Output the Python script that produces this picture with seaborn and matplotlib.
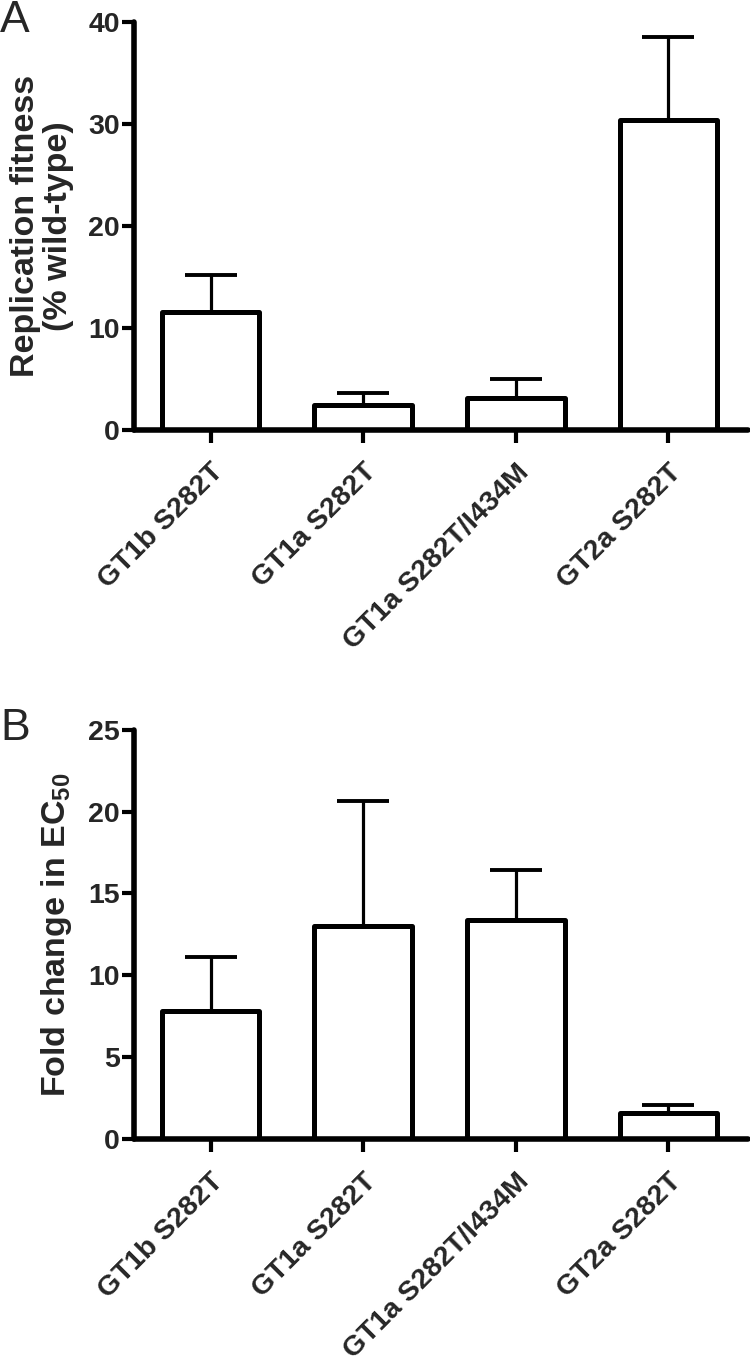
import numpy as np
import pandas as pd
import matplotlib
matplotlib.use("Agg")
import matplotlib.pyplot as plt
import seaborn as sns

mutants = ["GT1b S282T", "GT1a S282T", "GT1a S282T/I434M", "GT2a S282T"]
fitness = [11.6, 2.45, 3.1, 30.4]
fitness_err = [3.6, 1.15, 1.9, 8.1]
fold_ec50 = [7.8, 13.0, 13.35, 1.6]
fold_ec50_err = [3.3, 7.65, 3.1, 0.45]

sns.set_theme(style="ticks")
plt.rcParams['font.family'] = ['Liberation Sans', 'DejaVu Sans']
plt.rcParams['mathtext.fontset'] = 'custom'
plt.rcParams['mathtext.rm'] = 'Liberation Sans'
plt.rcParams['mathtext.bf'] = 'Liberation Sans:bold'


def bar_panel(ax, values, errs, ylim, yticks, ylabel, letter, letter_y):
    df = pd.DataFrame({"mutant": mutants, "value": values})
    sns.barplot(data=df, x="mutant", y="value", color="white", edgecolor="black",
                linewidth=3.6, width=0.64, ax=ax)
    for p in ax.patches:
        p.set_facecolor("white")
        p.set_joinstyle("round")
    ax.errorbar(np.arange(len(values)), values, yerr=[np.zeros(len(errs)), errs],
                fmt="none", ecolor="black", elinewidth=2.3, capsize=19, capthick=2.8,
                zorder=0)
    ax.set_xlim(-0.5, 3.52)
    ax.set_ylim(*ylim)
    ax.set_yticks(yticks)
    ax.set_xlabel("")
    ax.set_ylabel(ylabel, fontsize=24.5, fontweight="bold", labelpad=10,
                  linespacing=1.1)
    ax.set_xticks(range(len(mutants)))
    ax.set_xticklabels(mutants, rotation=45, ha="right", va="top",
                       rotation_mode="anchor", fontsize=20.5, fontweight="bold")
    for lab in ax.get_yticklabels():
        lab.set_fontsize(20.5)
        lab.set_fontweight("bold")
    ax.tick_params(axis="both", width=3, length=9, color="black")
    ax.tick_params(axis="y", pad=1.5)
    ax.tick_params(axis="x", pad=12)
    sns.despine(ax=ax)
    for s in ["left", "bottom"]:
        ax.spines[s].set_linewidth(4)
        ax.spines[s].set_color("black")
        ax.spines[s].set_capstyle("round")
    ax.figure.text(0.0, letter_y, letter, fontsize=32, ha="left", va="center")


fig = plt.figure(figsize=(7.5, 13.69), dpi=100)
ax1 = fig.add_axes([0.179, 0.686, 0.818, 0.298])
ax2 = fig.add_axes([0.179, 0.168, 0.818, 0.299])

bar_panel(ax1, fitness, fitness_err, (0, 40), [0, 10, 20, 30, 40],
          "Replication fitness\n(% wild-type)", "A", 0.9847)
bar_panel(ax2, fold_ec50, fold_ec50_err, (0, 25), [0, 5, 10, 15, 20, 25],
          r"Fold change in EC$_{\mathbf{50}}$", "B", 0.468)

fig.savefig("out.png", dpi=100, facecolor="white")
